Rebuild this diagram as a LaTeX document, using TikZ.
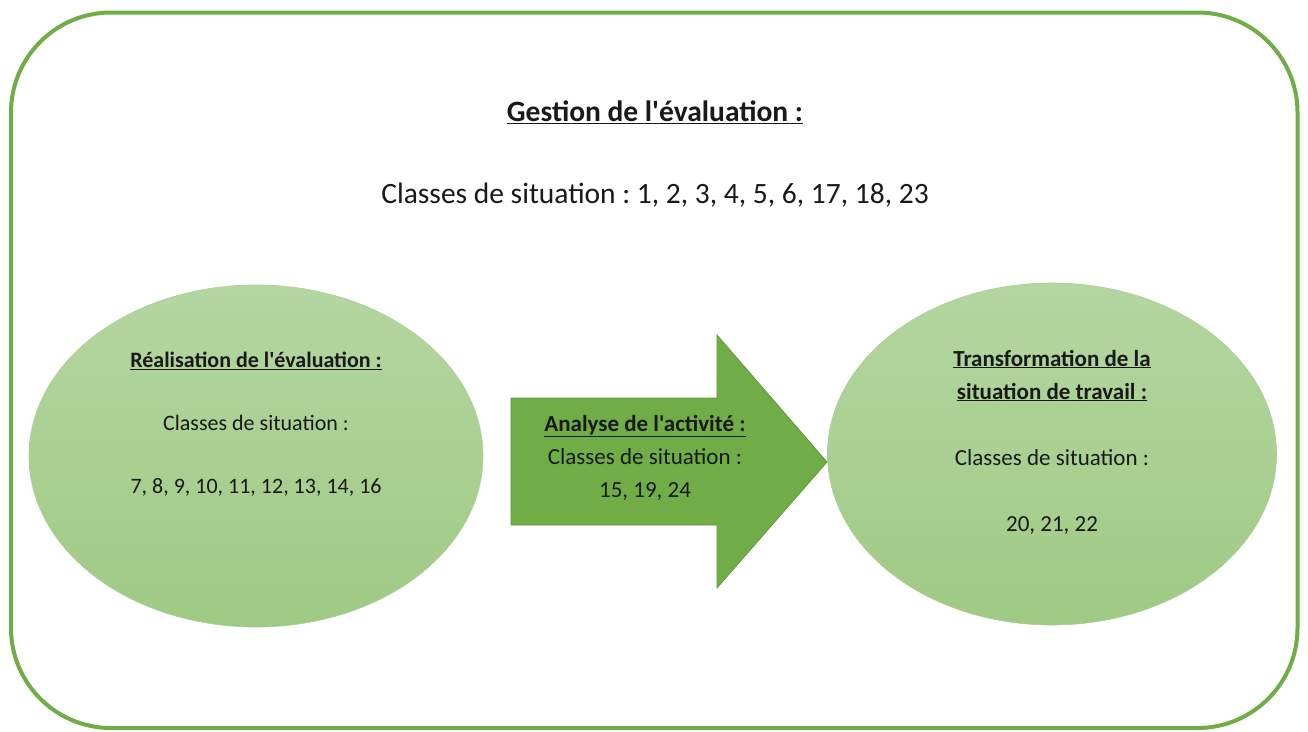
\documentclass[tikz,border=0pt]{standalone}
\usepackage{fontspec}
\setmainfont{Carlito}[Ligatures=TeXOff]
\frenchspacing
\usetikzlibrary{positioning,shapes.geometric}
\definecolor{vert}{HTML}{70AD47}
\definecolor{vertfonce}{HTML}{5E9A3A}
\definecolor{vertclair}{HTML}{B4D6A1}
\definecolor{vertmoyen}{HTML}{9FCA84}

\begin{document}
\begin{tikzpicture}[
        x=1pt, y=-1pt,
        bulle/.style={ellipse, draw=vert!60, line width=0.6pt, top color=vertclair, bottom color=vertmoyen, inner sep=0pt},
        gros/.style={font=\fontsize{29.5}{34}\selectfont},
        texte/.style={align=center, text=black!90}
    ]
        \useasboundingbox (0,0) rectangle (1308,731);
        \draw[vert, line width=4pt, rounded corners=100pt] (11,12.5) rectangle (1297.5,728);

        \node[gros, texte, font=\fontsize{29.5}{34}\selectfont\bfseries] (gestion) at (655,112) {\underline{Gestion de l'évaluation :}};
        \node[gros, texte] (classes) at (655,195) {Classes de situation : 1, 2, 3, 4, 5, 6, 17, 18, 23};

        \node[bulle, minimum width=454pt, minimum height=342pt] (realisation) at (256,456) {};
        \node[bulle, minimum width=449pt, minimum height=342pt] (transformation) at (1052,454) {};

        % fleche centrale
        \filldraw[fill=vert, draw=vertfonce, line width=0.8pt]
            (511,398) -- (717,398) -- (717,335) -- (827,462) -- (717,588) -- (717,525) -- (511,525) -- cycle;

        \node[texte, font=\fontsize{22}{31.5}\selectfont] (realisationtexte) at (256,424)
            {\textbf{\underline{Réalisation de l'évaluation :}}\\ \\Classes de situation :\\ \\7, 8, 9, 10, 11, 12, 13, 14, 16};
        \node[texte, font=\fontsize{23}{33}\selectfont] (analyse) at (645,458)
            {\textbf{\underline{Analyse de l'activité :}}\\Classes de situation :\\15, 19, 24};
        \node[texte, font=\fontsize{23}{33}\selectfont] (transformationtexte) at (1052,442)
            {\textbf{\underline{Transformation de la}}\\\textbf{\underline{situation de travail :}}\\ \\Classes de situation :\\ \\20, 21, 22};
    \end{tikzpicture}
\end{document}
